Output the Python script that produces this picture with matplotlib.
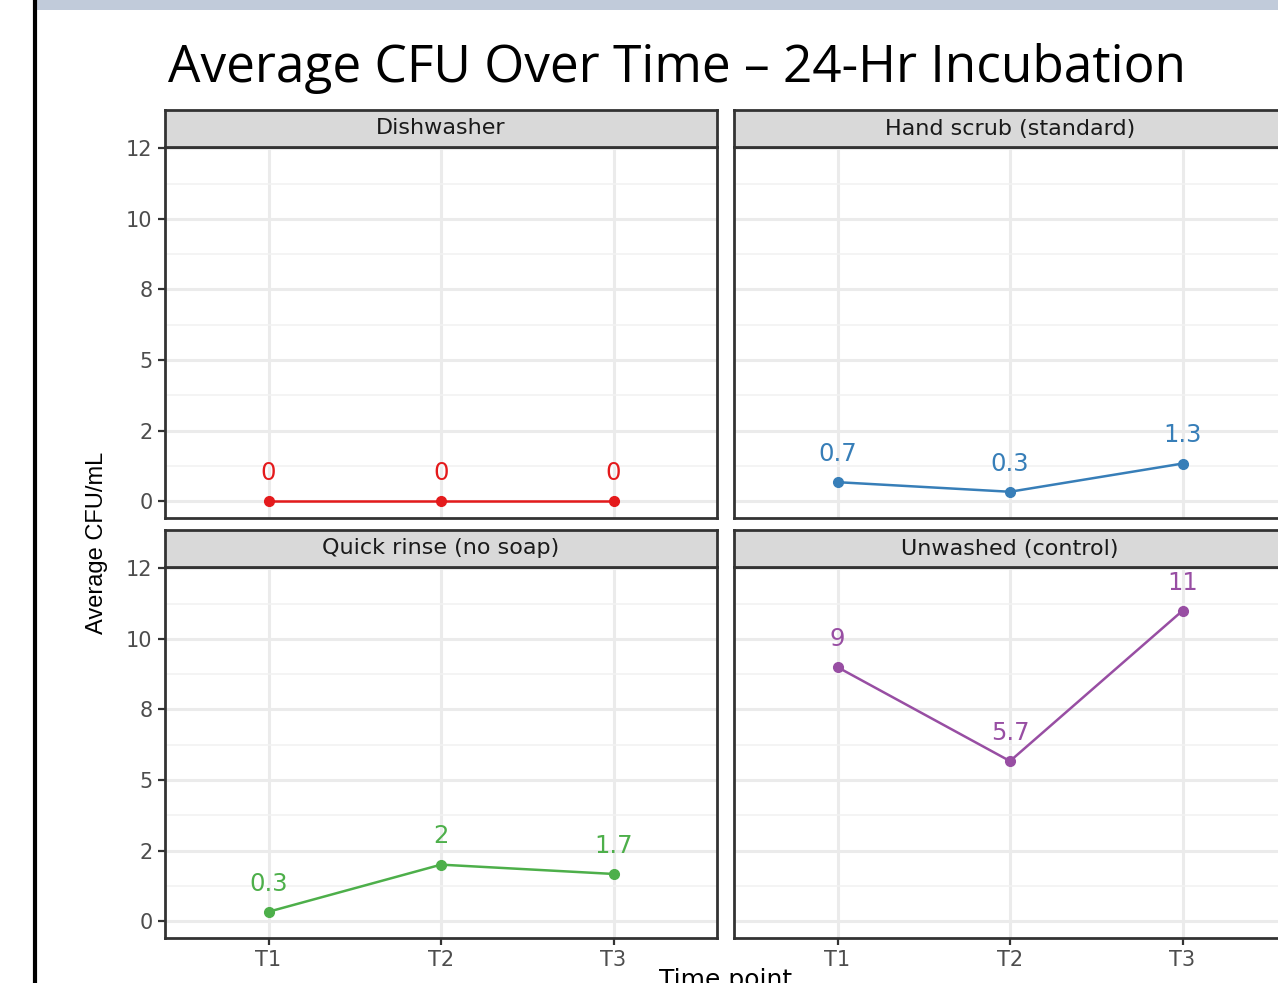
import matplotlib
matplotlib.use("Agg")
import matplotlib.pyplot as plt
from matplotlib.patches import Rectangle
from matplotlib.lines import Line2D

# data
time_points = ["T1", "T2", "T3"]
groups = ["Dishwasher", "Hand scrub (standard)", "Quick rinse (no soap)", "Unwashed (control)"]
dishwasher = [0.0, 0.0, 0.0]
hand_scrub = [0.67, 0.33, 1.33]
quick_rinse = [0.33, 2.0, 1.67]
unwashed = [9.0, 5.67, 11.0]
series = [dishwasher, hand_scrub, quick_rinse, unwashed]
colors = ["#E41A1C", "#377EB8", "#4DAF4A", "#984EA3"]
y_ticks = [0, 2.5, 5, 7.5, 10, 12.5]
y_tick_labels = ["0", "2", "5", "8", "10", "12"]

W, H = 1278, 983
fig = plt.figure(figsize=(W / 100, H / 100), dpi=100)
plt.rcParams['font.family'] = ['DejaVu Sans']

# slide decorations
fig.add_artist(Rectangle((37 / W, 1 - 10 / H), 1, 10 / H, transform=fig.transFigure,
                         color="#C1CBDA", lw=0))
fig.add_artist(Line2D([35 / W, 35 / W], [0, 1], transform=fig.transFigure, color="black", lw=3))
fig.text(677 / W, 1 - 82 / H, "Average CFU Over Time \u2013 24-Hr Incubation",
         ha="center", va="baseline", fontsize=37, family=["Open Sans", "DejaVu Sans"])

# panel positions in pixels: (left, top)
lefts = [165, 734, 165, 734]
tops = [147, 147, 567, 567]
pw, ph, sh = 552, 371, 37

for i in range(4):
    l, t = lefts[i], tops[i]
    ax = fig.add_axes([l / W, 1 - (t + ph) / H, pw / W, ph / H])
    x = list(range(1, 4))
    vals = series[i]
    ax.plot(x, vals, color=colors[i], lw=1.8, marker="o", ms=7, zorder=3)
    for xi, v in zip(x, vals):
        ax.text(xi, v + 1.0, f"{round(v, 1):g}", color=colors[i], fontsize=17.5,
                ha="center", va="center", zorder=4)
    ax.set_xlim(0.4, 3.6)
    ax.set_ylim(-0.6, 12.55)
    ax.set_xticks(x)
    ax.set_yticks(y_ticks)
    ax.set_yticks([1.25, 3.75, 6.25, 8.75, 11.25], minor=True)
    ax.grid(True, which="major", color="#EBEBEB", lw=2.2)
    ax.grid(True, which="minor", axis="y", color="#F2F2F2", lw=1.2)
    ax.set_axisbelow(True)
    for s in ax.spines.values():
        s.set_color("#333333")
        s.set_linewidth(2)
    ax.tick_params(axis="both", which="major", color="#333333", width=1.6, length=5,
                   labelsize=15, labelcolor="#4D4D4D", pad=4)
    ax.tick_params(axis="both", which="minor", length=0)
    if i % 2 == 0:
        ax.set_yticklabels(y_tick_labels)
    else:
        ax.tick_params(axis="y", which="major", length=0, labelleft=False)
    if i >= 2:
        ax.set_xticklabels(time_points)
    else:
        ax.tick_params(axis="x", which="major", length=0, labelbottom=False)

    # facet strip
    sax = fig.add_axes([l / W, 1 - t / H, pw / W, sh / H])
    sax.set_facecolor("#D9D9D9")
    sax.set_xticks([])
    sax.set_yticks([])
    for s in sax.spines.values():
        s.set_color("#333333")
        s.set_linewidth(2)
    sax.text(0.5, 0.5, groups[i], transform=sax.transAxes, ha="center", va="center",
             fontsize=16, color="#1A1A1A")

fig.text(97 / W, 1 - 543 / H, "Average CFU/mL", rotation=90, ha="center", va="center",
         fontsize=17, family=["Liberation Sans", "DejaVu Sans"])
fig.text(726 / W, 1 - 968 / H, "Time point", ha="center", va="top", fontsize=18)

fig.savefig("out.png", dpi=100)
